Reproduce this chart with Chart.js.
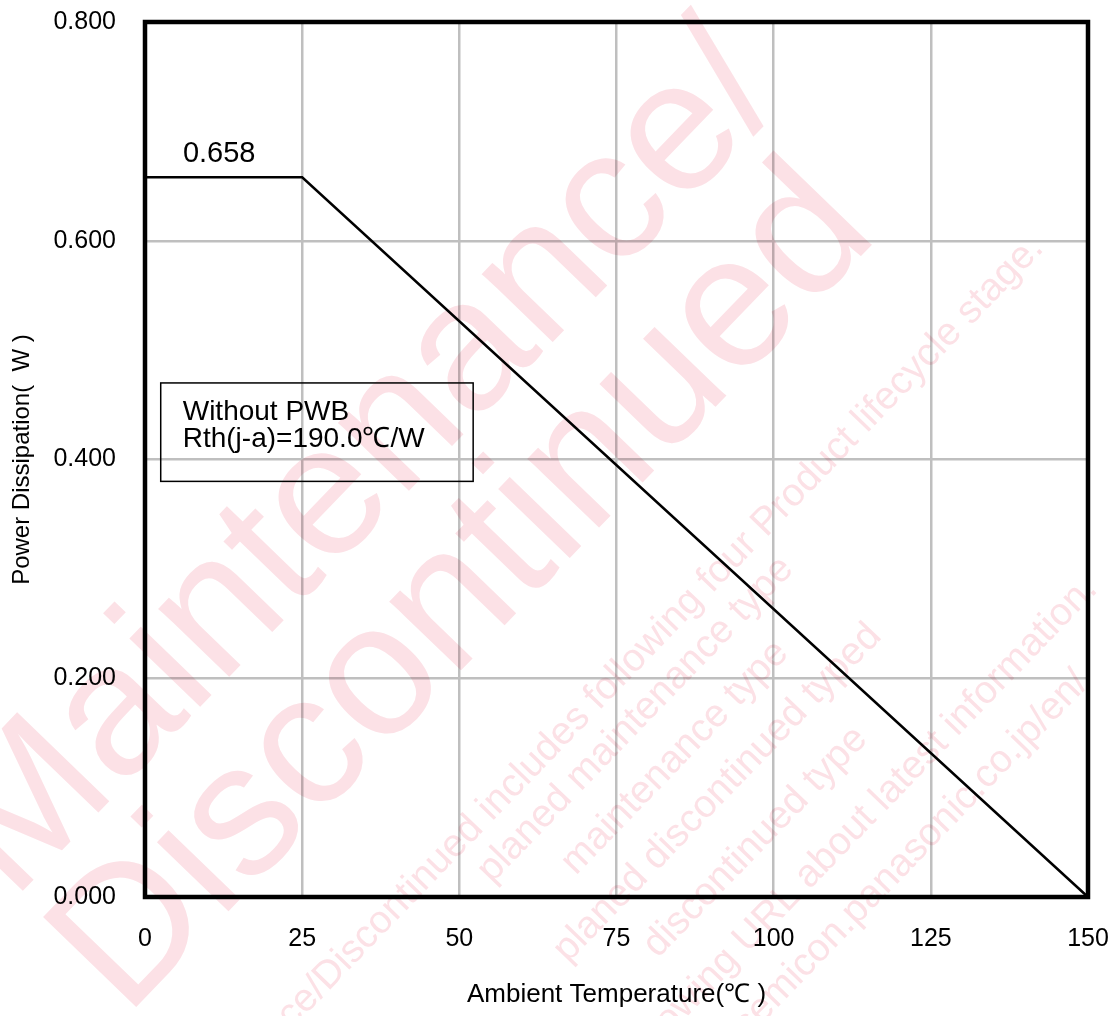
<!DOCTYPE html>
<html>
<head>
<meta charset="utf-8">
<script src="https://cdn.jsdelivr.net/npm/chart.js@4.4.1/dist/chart.umd.min.js"></script>
<style>
  html, body { margin: 0; padding: 0; background: #fff; overflow: hidden; }
  canvas { display: block; }
</style>
</head>
<body>
<canvas id="chart" width="1119" height="1016"></canvas>
<script>
// derating curve
const temps = [0, 25, 150];
const watts = [0.658, 0.658, 0];
const xTicks = [0, 25, 50, 75, 100, 125, 150];
const yTicks = [0, 0.2, 0.4, 0.6, 0.8];
const peakLabel = "0.658";
const noteLines = ["Without PWB", "Rth(j-a)=190.0℃/W"];
const markBig = ["Maintenance/", "Discontinued"];
const markSmall = [
    "Maintenance/Discontinued includes following four Product lifecycle stage.",
    "planed maintenance type",
    "maintenance type",
    "planed discontinued typed",
    "discontinued type",
    "Please visit following URL about latest information.",
    "http://www.semicon.panasonic.co.jp/en/"
];

const FONT = "'Liberation Sans', Arial, sans-serif";

// box, label and watermark drawing
const extras = {
    id: "extras",
    afterDatasetsDraw(chart) {
        const { ctx, chartArea: a, scales: { x, y } } = chart;
        ctx.save();

        // thick frame round the plot
        ctx.strokeStyle = "#000";
        ctx.lineWidth = 4.5;
        ctx.strokeRect(a.left, a.top, a.right - a.left, a.bottom - a.top);

        // value label above the flat part
        ctx.fillStyle = "#000";
        ctx.font = "29px " + FONT;
        ctx.textAlign = "center";
        ctx.textBaseline = "middle";
        ctx.fillText(peakLabel, x.getPixelForValue(11.8), y.getPixelForValue(watts[0]) - 23);

        // note box
        const bx = x.getPixelForValue(2.5), bx2 = x.getPixelForValue(52.2);
        const by = y.getPixelForValue(0.470), by2 = y.getPixelForValue(0.380);
        ctx.lineWidth = 1.5;
        ctx.strokeRect(bx, by, bx2 - bx, by2 - by);
        ctx.font = "28px " + FONT;
        ctx.textAlign = "left";
        noteLines.forEach((t, i) => ctx.fillText(t, bx + 22, by + 29 + i * 27));
        ctx.restore();
    },
    afterDraw(chart) {
        const { ctx } = chart;
        const ang = -46 * Math.PI / 180;
        ctx.save();
        ctx.globalCompositeOperation = "multiply";
        ctx.fillStyle = "#fce1e6";

        ctx.textAlign = "center";
        ctx.textBaseline = "alphabetic";
        [[400, 500, 186], [503, 627, 188]].forEach(([cx, cy, size], i) => {
            ctx.save();
            ctx.font = size + "px " + FONT;
            ctx.translate(cx, cy);
            ctx.rotate(ang);
            ctx.fillText(markBig[i], 0, 0);
            ctx.restore();
        });

        ctx.font = "39px " + FONT;
        ctx.textAlign = "right";
        ctx.textBaseline = "middle";
        const ends = [[1037, 242], [787, 563], [782, 647], [875, 630], [861, 733], [1091, 583], [1082, 677]];
        ends.forEach(([ex, ey], i) => {
            ctx.save();
            ctx.translate(ex, ey);
            ctx.rotate(ang);
            ctx.fillText(markSmall[i], 0, 0);
            ctx.restore();
        });
        ctx.restore();
    }
};

new Chart(document.getElementById("chart"), {
    type: "line",
    data: {
        datasets: [{
            data: temps.map((t, i) => ({ x: t, y: watts[i] })),
            borderColor: "#000",
            borderWidth: 2.5,
            pointRadius: 0,
            tension: 0,
            fill: false,
            clip: false
        }]
    },
    options: {
        responsive: false,
        devicePixelRatio: 1,
        animation: false,
        layout: { padding: { top: 22, right: 31, left: 0, bottom: 0 } },
        plugins: { legend: { display: false }, tooltip: { enabled: false } },
        scales: {
            x: {
                type: "linear",
                min: 0,
                max: 150,
                afterBuildTicks: s => { s.ticks = xTicks.map(v => ({ value: v })); },
                afterFit: s => { s.height = 119; s.paddingLeft = 0; s.paddingRight = 0; },
                ticks: {
                    color: "#000",
                    font: { family: FONT, size: 25 },
                    padding: 27,
                    maxRotation: 0,
                    autoSkip: false,
                    callback: v => String(v)
                },
                grid: { color: "#bfbfbf", lineWidth: 2.5, drawTicks: false },
                border: { display: false },
                title: {
                    display: true,
                    text: "Ambient Temperature(℃ )",
                    color: "#000",
                    font: { family: FONT, size: 26 },
                    padding: { top: 0, bottom: 6 }
                }
            },
            y: {
                min: 0,
                max: 0.8,
                afterBuildTicks: s => { s.ticks = yTicks.map(v => ({ value: v })); },
                afterFit: s => { s.width = 145; s.paddingTop = 0; s.paddingBottom = 0; },
                ticks: {
                    color: "#000",
                    font: { family: FONT, size: 25 },
                    padding: 29,
                    callback: v => Number(v).toFixed(3)
                },
                grid: { color: "#bfbfbf", lineWidth: 2.5, drawTicks: false },
                border: { display: false },
                title: {
                    display: true,
                    text: "Power Dissipation(  W )",
                    color: "#000",
                    font: { family: FONT, size: 24 },
                    padding: { top: 8, bottom: 0 }
                }
            }
        }
    },
    plugins: [extras]
});
</script>
</body>
</html>
